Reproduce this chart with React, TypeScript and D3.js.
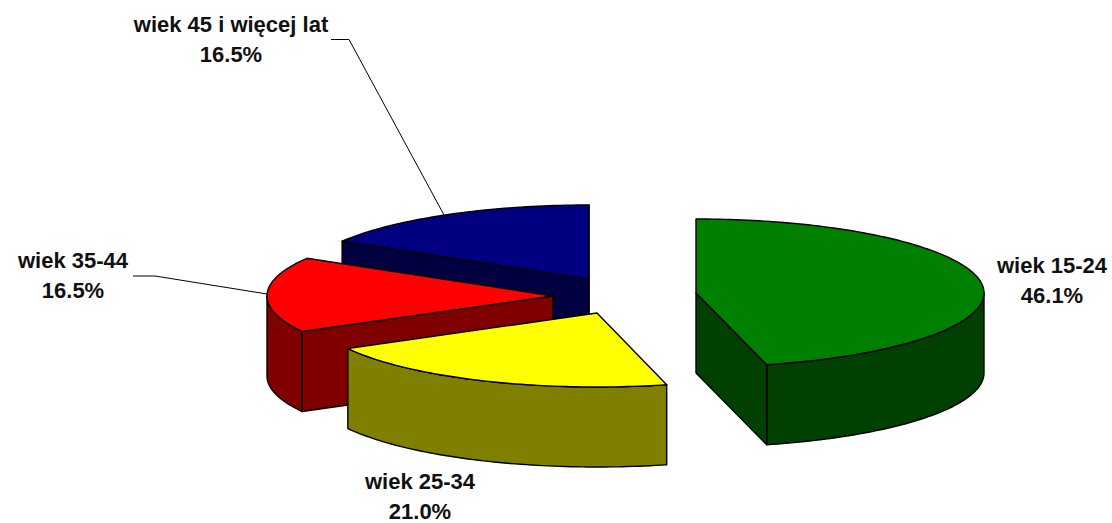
import React from "react";
import * as d3 from "d3";

const categories = ["wiek 15-24", "wiek 25-34", "wiek 35-44", "wiek 45 i więcej lat"];
const shares = [46.1, 21.0, 16.5, 16.5];

// styling and layout, separate from the data
const topColors = ["#008000", "#ffff00", "#ff0000", "#000080"];
const wallColors = ["#004000", "#808000", "#800000", "#000040"];
const apexX = [696, 597, 553, 589];
const apexY = [293, 313, 296, 279];
const radiusX = [288, 284, 286, 287];
const labelX = [1052, 420, 73, 231];
const labelY = [273, 489, 268, 32];
const leaders: [number, number][][] = [
  [],
  [],
  [[133, 276], [155, 276], [267, 294]],
  [[331, 39.5], [349, 39.5], [444, 215]],
];

const W = 1112;
const H = 523;
const RY = 74;
const DEPTH = 80;
const LINE_GAP = 29.5;

const toPath = d3.line<[number, number]>();
const pt = (i: number, a: number, dy = 0): [number, number] => [
  apexX[i] + radiusX[i] * Math.sin(a),
  apexY[i] - RY * Math.cos(a) + dy,
];
const arcPts = (i: number, a0: number, a1: number, dy = 0): [number, number][] => {
  const n = Math.max(2, Math.ceil((a1 - a0) / 0.02));
  return d3.range(n + 1).map((k) => pt(i, a0 + ((a1 - a0) * k) / n, dy));
};

export default function App() {
  const arcs = d3.pie<number>().sort(null)(shares);
  const order = [3, 2, 1, 0];
  const stroke = { stroke: "#000", strokeWidth: 1.4, strokeLinejoin: "round" as const };

  return (
    <svg
      width={W}
      height={H}
      viewBox={`0 0 ${W} ${H}`}
      style={{ position: "fixed", left: 0, top: 0, background: "#fff" }}
    >
      {order.map((i) => {
        const { startAngle: a0, endAngle: a1 } = arcs[i];
        const apex: [number, number] = [apexX[i], apexY[i]];
        const apexLow: [number, number] = [apexX[i], apexY[i] + DEPTH];
        const front0 = Math.max(a0, Math.PI / 2);
        const front1 = Math.min(a1, (3 * Math.PI) / 2);
        const walls: [number, number][][] = [];
        if (front1 > front0) {
          walls.push([
            ...arcPts(i, front0, front1),
            ...arcPts(i, front0, front1, DEPTH).reverse(),
          ]);
        }
        if (-Math.sin(a0) > 0) walls.push([apex, pt(i, a0), pt(i, a0, DEPTH), apexLow]);
        if (Math.sin(a1) > 0) walls.push([apex, pt(i, a1), pt(i, a1, DEPTH), apexLow]);
        const top: [number, number][] = [apex, ...arcPts(i, a0, a1)];
        return (
          <g key={categories[i]}>
            {walls.map((w, k) => (
              <path key={k} d={toPath(w)! + "Z"} fill={wallColors[i]} {...stroke} />
            ))}
            <path d={toPath(top)! + "Z"} fill={topColors[i]} {...stroke} />
          </g>
        );
      })}
      {leaders.map((l, i) =>
        l.length ? (
          <path key={i} d={toPath(l)!} fill="none" stroke="#000" strokeWidth={1} />
        ) : null,
      )}
      {categories.map((c, i) => (
        <text
          key={c}
          textAnchor="middle"
          fontFamily="'Liberation Sans', Arial, sans-serif"
          fontWeight={700}
          fontSize={22}
          fill="#111"
        >
          <tspan x={labelX[i]} y={labelY[i]}>{c}</tspan>
          <tspan x={labelX[i]} y={labelY[i] + LINE_GAP}>{`${shares[i].toFixed(1)}%`}</tspan>
        </text>
      ))}
    </svg>
  );
}
